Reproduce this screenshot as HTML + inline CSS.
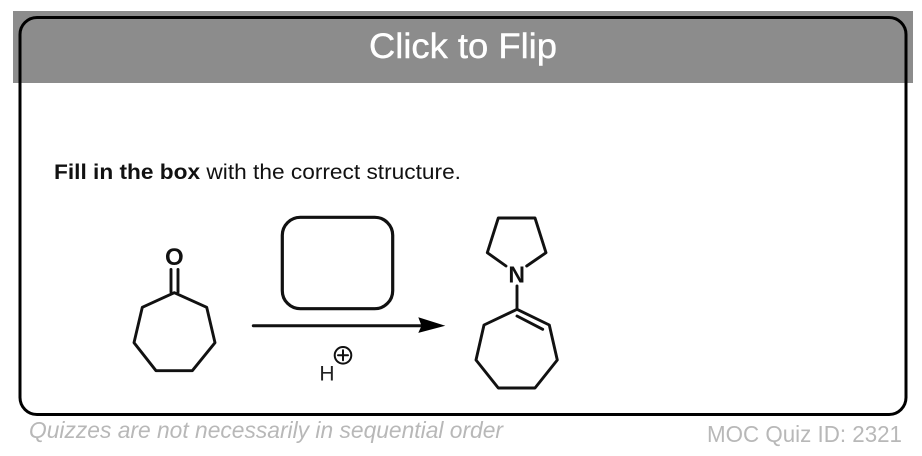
<!DOCTYPE html>
<html>
<head>
<meta charset="utf-8">
<style>
html,body{margin:0;padding:0;background:#fff;width:922px;height:456px;overflow:hidden}
svg{display:block}
text{font-family:"Liberation Sans",Arial,sans-serif}
</style>
</head>
<body>
<svg width="922" height="456" viewBox="0 0 922 456" xmlns="http://www.w3.org/2000/svg">
<rect width="922" height="456" fill="#fff"/>
<rect x="13" y="11" width="900" height="72" fill="#8c8c8c"/>
<rect x="20" y="17.5" width="886" height="397" rx="17" ry="17" fill="none" stroke="#000" stroke-width="3"/>
<text x="369" y="58" font-size="35" fill="#fff" stroke="#fff" stroke-width="0.4" textLength="188" lengthAdjust="spacingAndGlyphs">Click to Flip</text>
<text x="54" y="179" font-size="21" fill="#111" textLength="407" lengthAdjust="spacingAndGlyphs"><tspan font-weight="bold">Fill in the box</tspan> with the correct structure.</text>

<g fill="none" stroke="#111" stroke-width="2.9" stroke-linejoin="round" stroke-linecap="round">
<polygon points="174.3,292.7 206.7,307.3 215,342.7 192.3,370.7 156,370.7 134,342.7 142.3,307.3"/>
<line x1="171" y1="269.5" x2="171" y2="292"/>
<line x1="178" y1="269.5" x2="178" y2="292"/>
<rect x="282.3" y="217.3" width="110.4" height="91.4" rx="18" ry="18" stroke-width="3.2"/>
<line x1="253.3" y1="325.7" x2="422" y2="325.7" stroke-width="3"/>
<polyline points="506,266 487.3,252.7 498.3,218 535,218 546,252.7 526.7,266"/>
<line x1="517" y1="286" x2="517" y2="309.3"/>
<polygon points="517,309.3 549.3,325 557.3,360 535,388 498.3,388 476,360 484,325"/>
<line x1="517" y1="316" x2="542.7" y2="329.3"/>
<circle cx="343" cy="355.3" r="8.3" stroke-width="2"/>
<line x1="338" y1="355.3" x2="348" y2="355.3" stroke-width="2"/>
<line x1="343" y1="350.3" x2="343" y2="360.3" stroke-width="2"/>
</g>
<polygon points="445.3,325.7 418.3,317.3 421.5,325.7 418.3,332.9" fill="#000"/>

<text x="174.3" y="265" font-size="24" font-weight="bold" fill="#111" text-anchor="middle">O</text>
<text x="516.7" y="282.5" font-size="23" font-weight="bold" fill="#111" text-anchor="middle">N</text>
<text x="327" y="380.5" font-size="21" fill="#222" text-anchor="middle">H</text>

<text x="29" y="438" font-size="23" font-style="italic" fill="#b8b8b8" textLength="474" lengthAdjust="spacingAndGlyphs">Quizzes are not necessarily in sequential order</text>
<text x="707" y="442" font-size="23" fill="#b8b8b8" textLength="195" lengthAdjust="spacingAndGlyphs">MOC Quiz ID: 2321</text>
</svg>
</body>
</html>
